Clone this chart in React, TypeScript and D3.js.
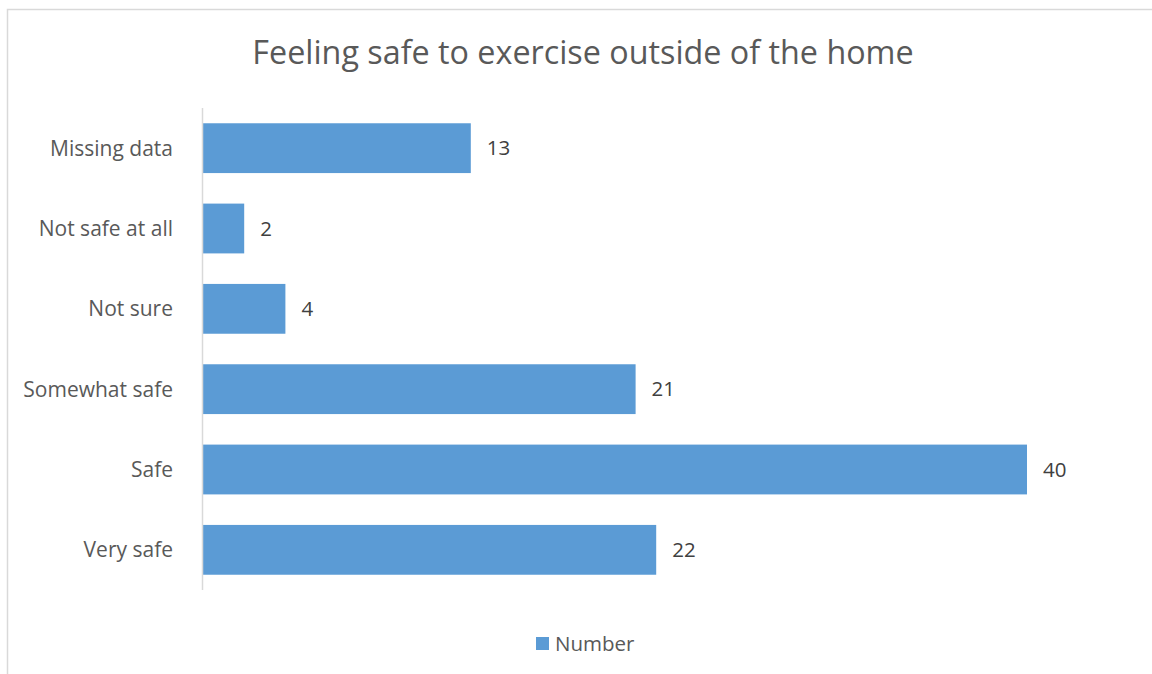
import React from "react";
import * as d3 from "d3";

const categories = ["Missing data", "Not safe at all", "Not sure", "Somewhat safe", "Safe", "Very safe"];
const values = [13, 2, 4, 21, 40, 22];
const seriesName = "Number";
const title = "Feeling safe to exercise outside of the home";

const W = 1152;
const H = 674;
const FONT = "'Open Sans', 'Noto Sans', sans-serif";

export default function App() {
  const x = d3.scaleLinear().domain([0, 45]).range([203, 1130]);
  const y = d3.scaleBand().domain(categories).range([108, 590]).paddingInner(0.38).paddingOuter(0.19);
  return (
    <svg width={W} height={H} style={{ position: "absolute", left: 0, top: 0, background: "#fff" }}>
      <rect x={7.5} y={9.5} width={W + 10} height={H + 10} fill="#fff" stroke="#d9d9d9" strokeWidth={1.5} />
      <text x={583} y={64} textAnchor="middle" fontFamily={FONT} fontSize={32.3} fill="#595959">{title}</text>
      {categories.map((c, i) => (
        <g key={c}>
          <rect x={x(0)} y={y(c)} width={x(values[i]) - x(0)} height={y.bandwidth()} fill="#5b9bd5" />
          <text x={x(values[i]) + 16} y={(y(c) as number) + y.bandwidth() / 2} dy="0.35em" fontFamily={FONT} fontSize={20.5} fill="#404040">{values[i]}</text>
          <text x={173} y={(y(c) as number) + y.bandwidth() / 2} dy="0.35em" textAnchor="end" fontFamily={FONT} fontSize={21} fill="#595959">{c}</text>
        </g>
      ))}
      <line x1={202.5} x2={202.5} y1={108} y2={590} stroke="#d9d9d9" strokeWidth={1.5} />
      <rect x={536} y={637} width={13} height={13} fill="#5b9bd5" />
      <text x={555} y={651} fontFamily={FONT} fontSize={20.5} fill="#595959">{seriesName}</text>
    </svg>
  );
}
